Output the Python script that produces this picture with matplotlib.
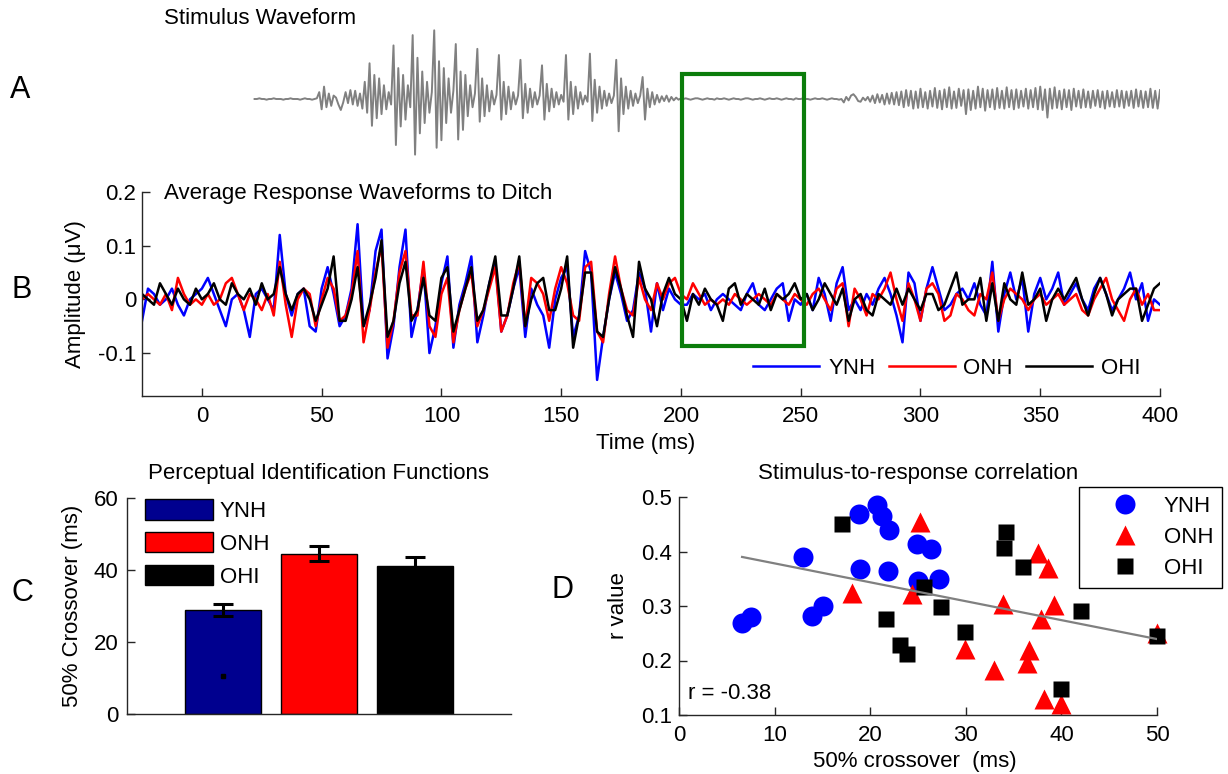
import numpy as np
import matplotlib
matplotlib.use('Agg')
import matplotlib.pyplot as plt
from matplotlib.patches import Rectangle, Patch

plt.rcParams['font.family'] = ['Liberation Sans', 'DejaVu Sans']
plt.rcParams['font.size'] = 16

# ---- data -------------------------------------------------------------
# A: stimulus waveform, % of peak, one sample per ms from 22 ms
stim_start = 22
stim_wave = [
    0, 0, 1, 0, 0, -1, 0, 0, 1, 0, 0, 0, -1, 0, 0, 1, 0, 0, 0, -1,
    0, 1, 0, 0, -1, 0, 1,
    10, -15, 18, -12, 8, -10, 5, 2, -8, -16,
    -5, 10, -6, 13, -8, 12, -10, 8, -14, 25,
    -20, 52, -39, 35, -28, 30, -22, 20, -15, 10,
    -8, 78, -67, 45, -40, 35, -30, 20, -12, 93,
    -81, 60, -50, 40, -35, 25, -20, 10, 100, -71,
    55, -60, 45, -35, 30, -20, 12, 80, -59, 40,
    -45, 35, -25, 20, -12, 8, 73, -33, 30, -25,
    20, -18, 12, -8, 6, 64, -30, 25, -22, 18,
    -15, 10, -8, 5, 57, -28, 22, -20, 15, -12,
    10, -8, 5, 49, -30, 22, -18, 15, -12, 10,
    -8, 6, -4, 64, -30, 25, -22, 18, -14, 10,
    -8, 5, -4, 66, -32, 28, -20, 18, -14, 12,
    -10, 8, -6, 5, 57, -47, 30, -22, 18, -14,
    12, -10, 8, -6, 5, 32, -30, 15, -12, 10,
    -8, 6, -5, 4, -3, 5, -4, 3, -2, 2,
    -1, 1,
    0, 1, 0, -1, 0, 1, 1, 0, -1, 0,
    1, 0, 0, -1, 1, 0, 0, 1, 0, -1,
    0, 1, 0, 0, -1, 0, 1, 1, 0, -1,
    0, 0, 1, 0, -1, 0, 1, 0, 0, 1,
    0, -1, 0, 1, 0, 0, -1, 1, 0, 0,
    1, 0, 0, -1, 0, 1, 0, 0, 1, 0,
    -1, 0, 1, 0, 0, -1, 0,
    -5, 3, -2, 5, 7, 3, -3, -4, 2, -2,
    3, -4, 5, -6, 7, -5, 6, -8, 8, -7,
    9, -8, 10, -9, 11, -12, 13, -10, 12, -14,
    11, -13, 15, -12, 10, -14, 12, -11, 16, -13,
    12, -15, 14, -12, 17, -14, 11, -13, 15, -10,
    13, -22, 14, -16, 12, -14, 18, -12, 15, -17,
    13, -12, 14, -15, 16, -13, 12, -14, 17, -12,
    13, -15, 14, -13, 12, -11, 15, -14, 13, -12,
    16, -15, 18, -16, 14, -27, 15, -14, 17, -13,
    12, -15, 14, -12, 13, -16, 15, -11, 12, -13,
    14, -12, 11, -13, 12, -10, 13, -12, 11, -14,
    12, -11, 10, -12, 13, -11, 12, -13, 11, -10,
    12, -13, 14, -11, 12, -13, 11, -12, 15, -13,
    12, -14, 13,
]

# B: average responses, hundredths of a uV, one sample per 2.5 ms from -25 ms
resp_start, resp_step = -25, 2.5
ynh_resp = [
    -4, 2, 1, -1, 0, 2, -1, -3, 0, 1, 2, 4, 1, -2, -5, 0, 1, -2, -7, 1, 2, 0, -2,
    12, 1, -3, 1, 2, -5, -6, 2, 6, 1, -5, -3, 2, 14, -5, -2, 9, 13, -11, -5,
    6, 13, -7, -2, 6, -10, -5, 3, 8, -9, -1, 3, 8, -8, -3, 3, 7, -6, -3, 2,
    6, -7, 2, -1, -3, -9, 0, 4, 6, -7, -3, 9, 5, -15, -7, 0, 5, 1, -4, -2,
    5, 2, -6, 3,
    -2, 2, 0, -1, -1, 1, 0, 1, -2, 0, 1, 0, -1, -2, 1, 3, -1, -2, 0, 2,
    3, -4, 0, -1, 1, -2, 4, 1, -4, 3, 6, -2, 0, -2, 1, -1, 2, 4, 1, -3,
    -8, 5, 3, -4, 2, 6, 2, -2, -1, 1, 2, 0, 3, -1, -3, 7, -6, 1, 5, 0,
    4, -6, 1, 4, 0, 2, 5, -1, 1, 3, 0, -2, 2, 4, 1, -2, 0, 2, 5, 0,
    3, -4, 0, -1,
]
onh_resp = [
    0, 1, 0, -1, 1, -2, 4, 1, -1, 0, -1, 1, -1, 0, 3, 4, 1, -2, 1, 0, -2, 1, -3,
    7, -1, -7, 0, 2, 1, -5, 0, 4, 2, -4, -3, 1, 9, -8, -2, 5, 10, -9, -4,
    5, 9, -3, -3, 7, -5, -7, 1, 4, -8, -2, 2, 5, -5, -2, 2, 6, -6, -3, 3,
    7, -5, 4, 3, 1, -4, 2, 6, 3, -3, -4, 6, 7, -6, -8, 1, 8, 2, -2, -3,
    4, 0, -2, 3,
    0, 3, 4, 1, 0, 3, 1, -1, 0, -1, 0, -1, 1, 0, -1, 0, 1, 0, -1, 1,
    0, -1, 1, 0, -1, 1, 2, 0, -2, 2, 3, -5, 2, 0, -3, 1, 0, 2, 5, 0,
    -4, 3, 0, -4, 2, 3, 1, -4, -3, 1, 0, -2, -3, 1, 0, 5, -4, 0, 2, 1,
    0, -2, 0, 1, -1, 0, 1, -1, 0, 1, -2, -3, 0, 2, 4, 0, -2, -4, 0, 2,
    -1, 1, -2, -2,
]
ohi_resp = [
    1, 0, -1, 3, 1, -1, 2, 0, -1, 2, 0, 1, 3, 0, -1, 3, 1, 0, 2, -1, 3, 0, 1,
    6, 1, -2, 1, 2, 0, -4, -1, 2, 8, -4, -4, 0, 6, -5, -1, 4, 11, -7, -4,
    3, 7, -4, -2, 4, -3, -4, 4, 6, -6, -2, 2, 6, -4, -2, 3, 8, -3, -3, 2,
    8, -5, 0, 3, 4, -2, -2, 2, 8, -9, -3, 5, 5, -6, -7, 0, 6, 2, -3, -7,
    7, 2, 0, -5,
    1, 4, 1, 0, -4, 1, -1, 2, 0, -1, -4, 2, 3, -1, 1, 0, -1, 2, -2, 1,
    0, 1, 3, 0, 1, -2, 0, 3, 1, -1, 2, -4, 0, 1, -2, -3, 1, 0, -1, 2,
    -1, 2, 0, -2, 1, 1, -2, -1, 2, 5, -1, 0, 0, 4, -4, 3, -4, 3, 0, -1,
    5, -1, 0, 2, -4, 0, 2, 0, 2, 4, 0, -3, 1, 4, 1, -3, 0, 1, 2, 2,
    -4, -1, 2, 3,
]
ditch_start, ditch_end = 200.5, 251.3

# C: perceptual identification
groups = ['YNH', 'ONH', 'OHI']
crossover = [28.9, 44.5, 41.1]
crossover_err = [1.6, 2.1, 2.6]
stray_dot = (1, 10.5)

# D: stimulus-to-response correlation
ynh_x = [6.6, 7.5, 13.0, 13.9, 15.1, 18.8, 18.9, 20.7, 21.2, 22.0, 21.9, 24.9, 26.4, 25.0, 27.2]
ynh_r = [0.268, 0.280, 0.389, 0.282, 0.300, 0.469, 0.367, 0.485, 0.466, 0.439, 0.364, 0.413, 0.404, 0.345, 0.350]
onh_x = [18.1, 25.2, 24.4, 33.9, 37.5, 38.6, 39.2, 37.9, 29.9, 32.9, 36.6, 36.4, 38.2, 40.0, 50.0]
onh_r = [0.324, 0.454, 0.322, 0.303, 0.397, 0.369, 0.301, 0.277, 0.221, 0.182, 0.220, 0.195, 0.129, 0.120, 0.250]
ohi_x = [17.0, 34.2, 34.0, 36.0, 25.6, 27.4, 21.7, 23.1, 23.9, 29.9, 42.1, 50.0, 40.0]
ohi_r = [0.450, 0.436, 0.407, 0.372, 0.335, 0.298, 0.277, 0.228, 0.212, 0.253, 0.291, 0.245, 0.147]
fit_x = [6.6, 50.1]
fit_r = [0.390, 0.239]
r_text = 'r = -0.38'

# ---- figure -----------------------------------------------------------
W, H = 1228, 774
fig = plt.figure(figsize=(W / 100, H / 100), dpi=100)


def box(l, t, r, b):
    return [l / W, 1 - b / H, (r - l) / W, (b - t) / H]


def matlab_axes(ax):
    for s in ['top', 'right']:
        ax.spines[s].set_visible(False)
    for s in ['left', 'bottom']:
        ax.spines[s].set_color('#262626')
        ax.spines[s].set_linewidth(1.0)
    ax.tick_params(direction='in', length=6, width=1, color='#262626', labelsize=16)


blue, red = (0, 0, 1), (1, 0, 0)

# A
ax_a = fig.add_axes(box(142, 20, 1160, 178))
stim_t = stim_start + np.arange(len(stim_wave))
ax_a.plot(stim_t, np.array(stim_wave) / 100, color='#808080', lw=1.4)
ax_a.set_xlim(-25, 400)
ax_a.set_ylim(-1.15, 1.15)
ax_a.axis('off')

# B
ax_b = fig.add_axes(box(142, 192, 1160, 396))
matlab_axes(ax_b)
for vals, col, lab in [(ynh_resp, blue, 'YNH'), (onh_resp, red, 'ONH'), (ohi_resp, 'black', 'OHI')]:
    t = resp_start + resp_step * np.arange(len(vals))
    ax_b.plot(t, np.array(vals) / 100, color=col, lw=1.8, label=lab)
ax_b.set_xlim(-25, 400)
ax_b.set_ylim(-0.18, 0.2)
ax_b.set_xticks([0, 50, 100, 150, 200, 250, 300, 350, 400])
ax_b.set_yticks([-0.1, 0, 0.1, 0.2])
ax_b.set_yticklabels(['-0.1', '0', '0.1', '0.2'])
ax_b.tick_params(axis='x', pad=7)
ax_b.tick_params(axis='y', pad=4)
ax_b.set_xlabel('Time (ms)')
ax_b.xaxis.set_label_coords(0.495, -(443 - 396) / 204)
ax_b.xaxis.label.set_va('center')
ax_b.set_ylabel('Amplitude (μV)')
ax_b.yaxis.set_label_coords((75 - 142) / 1018, 0.5)
ax_b.yaxis.label.set_va('center')
ax_b.add_patch(Rectangle((ditch_start, -0.087), ditch_end - ditch_start, 0.507,
                         fill=False, ec='#0b7d0b', lw=3, clip_on=False, zorder=5))
ax_b.legend(loc='center right', bbox_to_anchor=(0.981, 0.137), ncol=3, frameon=False,
            handlelength=2.97, handletextpad=0.4, columnspacing=0.6,
            borderaxespad=0, borderpad=0, fontsize=16)

# C
ax_c = fig.add_axes(box(127, 498, 511, 714))
matlab_axes(ax_c)
bar_cols = ['#00008f', red, 'black']
xpos = [1, 2, 3]
ax_c.bar(xpos, crossover, width=0.8, color=bar_cols, edgecolor='black', lw=1)
ax_c.errorbar(xpos, crossover, yerr=crossover_err, fmt='none', ecolor='black',
              elinewidth=2.2, capsize=7, capthick=2.2)
ax_c.plot([stray_dot[0]], [stray_dot[1]], 's', color='black', ms=3)
ax_c.set_xlim(0, 4)
ax_c.set_ylim(0, 60)
ax_c.set_xticks([])
ax_c.set_yticks([0, 20, 40, 60])
ax_c.tick_params(axis='y', pad=6)
ax_c.set_ylabel('50% Crossover (ms)')
ax_c.yaxis.set_label_coords((72 - 127) / 384, 0.5)
ax_c.yaxis.label.set_va('center')
ax_c.text(0.5, 1 + 24 / 216, 'Perceptual Identification Functions',
          transform=ax_c.transAxes, ha='center', va='center')
handles = [Patch(facecolor=c, edgecolor='black', lw=1) for c in bar_cols]
ax_c.legend(handles, groups, loc='upper left', bbox_to_anchor=(0.047, 0.995),
            frameon=False, handlelength=3.06, handleheight=1.04, labelspacing=0.45,
            handletextpad=0.3, borderpad=0, borderaxespad=0, fontsize=16)

# D
ax_d = fig.add_axes(box(679, 497, 1157, 715))
matlab_axes(ax_d)
ax_d.plot(ynh_x, ynh_r, 'o', color=blue, mec='none', ms=14.4, clip_on=False, label='YNH')
ax_d.plot(onh_x, onh_r, '^', color=red, mec='none', ms=14, clip_on=False, label='ONH')
ax_d.plot(ohi_x, ohi_r, 's', color='black', mec='none', ms=11.5, clip_on=False, label='OHI')
ax_d.plot(fit_x, fit_r, color='#808080', lw=1.6, zorder=4)
ax_d.set_xlim(0, 50)
ax_d.set_ylim(0.1, 0.5)
ax_d.set_xticks([0, 10, 20, 30, 40, 50])
ax_d.set_yticks([0.1, 0.2, 0.3, 0.4, 0.5])
ax_d.set_yticklabels(['0.1', '0.2', '0.3', '0.4', '0.5'])
ax_d.tick_params(axis='x', pad=7)
ax_d.tick_params(axis='y', pad=5)
ax_d.set_xlabel('50% crossover  (ms)')
ax_d.xaxis.set_label_coords(0.494, -(762 - 715) / 218)
ax_d.xaxis.label.set_va('center')
ax_d.set_ylabel('r value')
ax_d.yaxis.set_label_coords((619 - 679) / 478, 0.5)
ax_d.yaxis.label.set_va('center')
ax_d.text(0.5, 1 + 24 / 218, 'Stimulus-to-response correlation',
          transform=ax_d.transAxes, ha='center', va='center')
ax_d.text(0.9, 0.14, r_text, ha='left', va='center')
leg = ax_d.legend(loc='upper left', bbox_to_anchor=(0.837, 1.046), frameon=True,
                  fancybox=False, edgecolor='black', framealpha=1, numpoints=1,
                  handlelength=3.3, handletextpad=0.1, borderpad=0.4,
                  labelspacing=0.45, borderaxespad=0, fontsize=16)
leg.get_frame().set_linewidth(1.0)

# panel letters and top texts
fig.text(10 / W, 1 - 90 / H, 'A', fontsize=22, va='center', ha='left')
fig.text(12 / W, 1 - 290 / H, 'B', fontsize=22, va='center', ha='left')
fig.text(12 / W, 1 - 593 / H, 'C', fontsize=22, va='center', ha='left')
fig.text(551 / W, 1 - 590 / H, 'D', fontsize=22, va='center', ha='left')
fig.text(164 / W, 1 - 18 / H, 'Stimulus Waveform', va='center', ha='left')
fig.text(164 / W, 1 - 193 / H, 'Average Response Waveforms to Ditch', va='center', ha='left')

fig.savefig('out.png', dpi=100)
